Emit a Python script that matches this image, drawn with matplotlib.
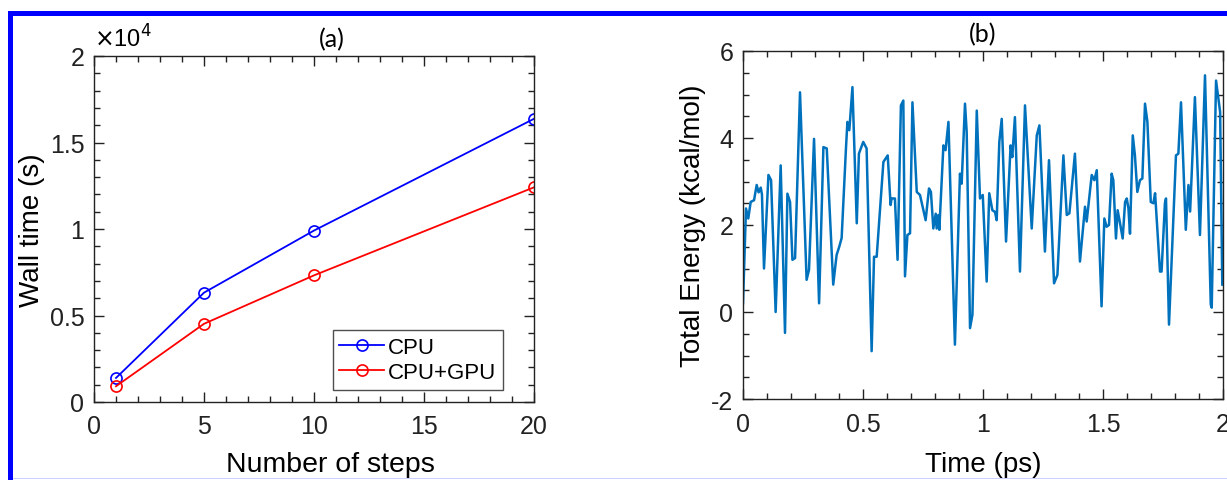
import matplotlib
matplotlib.use('Agg')
import matplotlib.pyplot as plt
from matplotlib.patches import Rectangle
from matplotlib.ticker import MultipleLocator, FuncFormatter

plt.rcParams['font.family'] = ['Liberation Sans', 'DejaVu Sans']
plt.rcParams['axes.unicode_minus'] = False

# (a) wall time vs number of steps
steps = [1, 5, 10, 20]
cpu_time = [1390, 6320, 9910, 16370]
gpu_time = [910, 4520, 7320, 12410]

# (b) total energy trace
time_ps = [0.0, 0.0125, 0.022, 0.032, 0.046, 0.057, 0.065, 0.074, 0.079, 0.0875,
           0.106, 0.117, 0.136, 0.157, 0.175, 0.185, 0.196, 0.206, 0.217, 0.2375,
           0.265, 0.275, 0.296, 0.317, 0.335, 0.349, 0.376, 0.390, 0.401, 0.411,
           0.429, 0.435, 0.443, 0.456, 0.474, 0.483, 0.501, 0.515, 0.536, 0.546,
           0.557, 0.585, 0.603, 0.615, 0.619, 0.633, 0.644, 0.658, 0.668, 0.675,
           0.685, 0.696, 0.706, 0.724, 0.7375, 0.761, 0.775, 0.783, 0.793, 0.803,
           0.807, 0.814, 0.818, 0.835, 0.844, 0.856, 0.883, 0.904, 0.911, 0.925,
           0.932, 0.946, 0.956, 0.974, 0.9875, 0.999, 1.0153, 1.026, 1.039, 1.05,
           1.057, 1.068, 1.078, 1.096, 1.115, 1.122, 1.133, 1.154, 1.175, 1.203,
           1.224, 1.235, 1.258, 1.275, 1.296, 1.310, 1.335, 1.349, 1.360, 1.383,
           1.404, 1.425, 1.432, 1.453, 1.464, 1.474, 1.494, 1.5056, 1.515, 1.525,
           1.536, 1.543, 1.554, 1.561, 1.571, 1.582, 1.592, 1.599, 1.606, 1.6125,
           1.624, 1.633, 1.643, 1.654, 1.664, 1.675, 1.685, 1.699, 1.710, 1.717,
           1.7375, 1.744, 1.758, 1.7625, 1.775, 1.804, 1.814, 1.825, 1.845, 1.856,
           1.863, 1.883, 1.904, 1.925, 1.949, 1.953, 1.971, 1.988, 1.997]
energy = [0.2, 2.38, 2.15, 2.53, 2.57, 2.92, 2.75, 2.86, 2.7, 1.0,
          3.15, 3.03, 0.0, 3.37, -0.48, 2.72, 2.53, 1.2, 1.24, 5.05,
          0.74, 0.97, 3.98, 0.2, 3.79, 3.76, 0.63, 1.31, 1.5, 1.7,
          3.76, 4.37, 4.18, 5.17, 2.04, 3.64, 3.91, 3.76, -0.9, 1.27,
          1.27, 3.45, 3.6, 2.46, 2.61, 2.61, 1.2, 4.75, 4.86, 0.82,
          1.77, 1.81, 4.82, 2.76, 2.69, 2.11, 2.84, 2.76, 1.92, 2.26,
          1.92, 2.23, 1.89, 3.83, 3.72, 4.37, -0.75, 3.18, 2.95, 4.79,
          4.14, -0.37, -0.06, 4.63, 2.61, 2.69, 0.7, 2.73, 2.34, 2.3,
          2.11, 3.91, 4.44, 1.62, 3.83, 3.56, 4.48, 0.93, 4.75, 1.92,
          4.06, 4.29, 1.39, 3.49, 0.66, 0.85, 3.6, 2.23, 2.27, 3.64,
          1.16, 2.42, 2.08, 3.15, 3.03, 3.26, 0.13, 2.15, 1.96, 2.0,
          3.18, 3.03, 1.69, 2.34, 2.04, 1.69, 2.53, 2.61, 2.38, 1.8,
          4.06, 3.6, 2.76, 3.03, 3.07, 4.79, 4.37, 2.53, 2.5, 2.73,
          0.93, 0.93, 2.5, 2.61, -0.29, 3.6, 3.64, 4.82, 1.89, 2.92,
          2.31, 4.94, 1.77, 5.44, 0.17, 0.1, 5.32, 4.6, 0.63]

W, H = 1227, 481
fig = plt.figure(figsize=(W / 100, H / 100), dpi=100)


def style_axes(ax):
    ax.tick_params(which='both', direction='in', top=True, right=True,
                   labelsize=18, width=1.0, colors='#222222')
    ax.tick_params(axis='x', which='both', pad=9)
    ax.tick_params(axis='y', which='both', pad=7)
    ax.tick_params(which='major', length=7)
    ax.tick_params(which='minor', length=4)
    for sp in ax.spines.values():
        sp.set_linewidth(1.0)
        sp.set_color('#222222')


title_font = ['Lato', 'Liberation Sans', 'DejaVu Sans']

# panel (a)
ax1 = fig.add_axes([94 / W, 1 - 403 / H, 440 / W, 346 / H])
ax1.plot(steps, cpu_time, '-o', color='#0000ff', lw=1.3, ms=8, mfc='none',
         mew=1.2, label='CPU')
ax1.plot(steps, gpu_time, '-o', color='#ff0000', lw=1.3, ms=8, mfc='none',
         mew=1.2, label='CPU+GPU')
ax1.set_xlim(0, 20)
ax1.set_ylim(0, 20000)
ax1.xaxis.set_major_locator(MultipleLocator(5))
ax1.xaxis.set_minor_locator(MultipleLocator(1))
ax1.yaxis.set_major_locator(MultipleLocator(5000))
ax1.yaxis.set_minor_locator(MultipleLocator(1000))
ax1.yaxis.set_major_formatter(FuncFormatter(lambda v, p: '%g' % (v / 1e4)))
style_axes(ax1)
ax1.set_xlabel('Number of steps', fontsize=20.5, va='center')
ax1.xaxis.set_label_coords(0.538, -0.178)
ax1.set_ylabel('Wall time (s)', fontsize=20, va='center')
ax1.yaxis.set_label_coords(-0.141, 0.5)
ax1.set_title('(a)', fontsize=18, pad=7, x=0.54, family=title_font)
ax1.text(0.0, 1.012, r'$\times$10$^4$', transform=ax1.transAxes, fontsize=17,
         ha='left', va='bottom')
leg = ax1.legend(loc='lower right', bbox_to_anchor=(0.93, 0.035), fontsize=16,
                 frameon=True, fancybox=False, edgecolor='#222222',
                 handlelength=2.0, handletextpad=0.2, borderpad=0.3,
                 labelspacing=0.2, borderaxespad=0)
leg.get_frame().set_linewidth(1.0)

# panel (b)
ax2 = fig.add_axes([743 / W, 1 - 400 / H, 480 / W, 348 / H])
ax2.plot(time_ps, energy, color='#0072bd', lw=1.8)
ax2.set_xlim(0, 2)
ax2.set_ylim(-2, 6)
ax2.xaxis.set_major_locator(MultipleLocator(0.5))
ax2.xaxis.set_minor_locator(MultipleLocator(0.1))
ax2.yaxis.set_major_locator(MultipleLocator(2))
ax2.yaxis.set_minor_locator(MultipleLocator(0.5))
ax2.xaxis.set_major_formatter(FuncFormatter(lambda v, p: '%g' % v))
ax2.yaxis.set_major_formatter(FuncFormatter(lambda v, p: '%g' % v))
style_axes(ax2)
ax2.set_xlabel('Time (ps)', fontsize=20, va='center')
ax2.xaxis.set_label_coords(0.5, -0.187)
ax2.set_ylabel('Total Energy (kcal/mol)', fontsize=20, va='center')
ax2.yaxis.set_label_coords(-0.104, 0.5)
ax2.set_title('(b)', fontsize=18, pad=7, family=title_font)

# blue border of the original figure panel
fig.add_artist(Rectangle((8 / W, 0), 5 / W, 1 - 12 / H, transform=fig.transFigure,
                         color='#0000ff', lw=0))
fig.add_artist(Rectangle((8 / W, 1 - 17 / H), 1 - 8 / W, 5 / H, transform=fig.transFigure,
                         color='#0000ff', lw=0))
fig.add_artist(Rectangle((13 / W, 1 - 480 / H), 1, 1.5 / H, transform=fig.transFigure,
                         color='#c8d0ff', lw=0))

fig.savefig('out.png', dpi=100)
